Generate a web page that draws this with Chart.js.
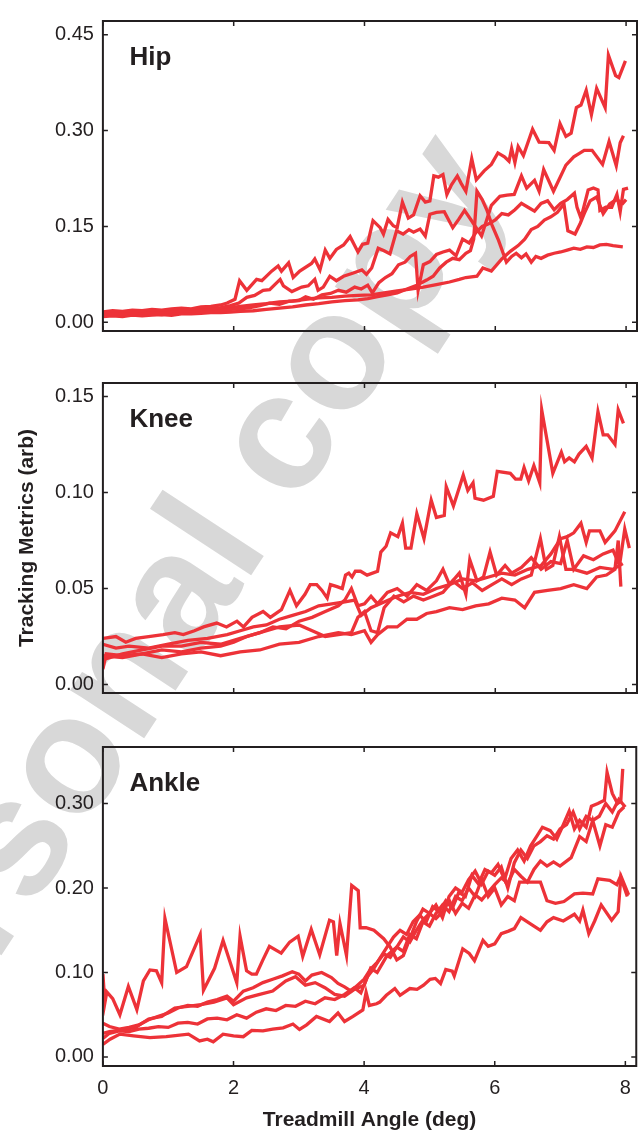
<!DOCTYPE html>
<html><head><meta charset="utf-8">
<script src="https://cdn.jsdelivr.net/npm/chart.js"></script>
<style>
html,body{margin:0;padding:0;background:#fff;overflow:hidden;width:641px;height:1131px;}
canvas{position:absolute;left:0;}
</style></head><body>
<canvas id="wm" width="641" height="1131" style="top:0"></canvas>
<canvas id="c1" width="641" height="352" style="top:0"></canvas>
<canvas id="c2" width="641" height="352" style="top:362px"></canvas>
<canvas id="c3" width="641" height="405" style="top:726px"></canvas>
<script>
// ---------- axis ticks ----------
const xTickVals = [0, 2, 4, 6, 8];
const xTickLabels = ['0', '2', '4', '6', '8'];
const hipTickVals = [0, 0.15, 0.30, 0.45];
const hipTickLabels = ['0.00', '0.15', '0.30', '0.45'];
const kneeTickVals = [0, 0.05, 0.10, 0.15];
const kneeTickLabels = ['0.00', '0.05', '0.10', '0.15'];
const ankleTickVals = [0, 0.10, 0.20, 0.30];
const ankleTickLabels = ['0.00', '0.10', '0.20', '0.30'];

// ---------- Hip series [angle, metric] ----------
const hipA = [[0,0.016],[0.15,0.018],[0.3,0.017],[0.45,0.019],[0.6,0.018],[0.75,0.020],[0.9,0.019],[1.05,0.021],[1.2,0.022],[1.35,0.021],[1.5,0.024],[1.65,0.025],[1.8,0.027],[1.9,0.030],[2.02,0.036],[2.09,0.065],[2.20,0.050],[2.35,0.067],[2.43,0.065],[2.58,0.080],[2.68,0.088],[2.73,0.080],[2.84,0.093],[2.91,0.070],[3.01,0.080],[3.19,0.092],[3.24,0.099],[3.32,0.082],[3.40,0.113],[3.47,0.100],[3.57,0.114],[3.68,0.121],[3.78,0.134],[3.90,0.110],[3.97,0.122],[4.05,0.124],[4.13,0.159],[4.24,0.148],[4.29,0.138],[4.36,0.161],[4.44,0.151],[4.50,0.148],[4.58,0.188],[4.67,0.163],[4.75,0.168],[4.85,0.198],[4.93,0.188],[5.00,0.190],[5.06,0.229],[5.13,0.227],[5.20,0.231],[5.26,0.200],[5.33,0.215],[5.42,0.229],[5.48,0.217],[5.55,0.205],[5.64,0.256],[5.71,0.223],[5.83,0.237],[5.94,0.247],[6.04,0.265],[6.14,0.259],[6.21,0.252],[6.25,0.272],[6.30,0.250],[6.35,0.275],[6.43,0.261],[6.57,0.302],[6.67,0.282],[6.82,0.281],[6.90,0.269],[6.99,0.311],[7.08,0.291],[7.16,0.296],[7.24,0.336],[7.31,0.340],[7.39,0.363],[7.47,0.325],[7.55,0.366],[7.68,0.336],[7.73,0.418],[7.84,0.386],[7.89,0.383],[7.99,0.409]];
const hipB = [[0,0.013],[0.15,0.014],[0.3,0.013],[0.45,0.015],[0.6,0.014],[0.75,0.016],[0.9,0.015],[1.05,0.017],[1.2,0.018],[1.35,0.017],[1.5,0.020],[1.65,0.021],[1.8,0.023],[1.95,0.026],[2.08,0.030],[2.2,0.039],[2.32,0.042],[2.45,0.050],[2.55,0.051],[2.71,0.067],[2.76,0.057],[2.89,0.048],[3.04,0.055],[3.14,0.057],[3.24,0.067],[3.29,0.050],[3.37,0.055],[3.47,0.072],[3.57,0.065],[3.68,0.072],[3.83,0.077],[3.96,0.082],[4.03,0.075],[4.11,0.085],[4.21,0.116],[4.30,0.112],[4.39,0.107],[4.49,0.143],[4.59,0.138],[4.68,0.145],[4.75,0.141],[4.85,0.146],[4.93,0.135],[5.00,0.169],[5.10,0.172],[5.22,0.173],[5.35,0.148],[5.44,0.161],[5.53,0.175],[5.63,0.160],[5.79,0.135],[5.94,0.183],[6.07,0.197],[6.18,0.199],[6.29,0.200],[6.40,0.229],[6.48,0.210],[6.60,0.222],[6.67,0.205],[6.74,0.239],[6.89,0.205],[7.08,0.246],[7.20,0.259],[7.28,0.264],[7.36,0.269],[7.48,0.269],[7.64,0.247],[7.74,0.283],[7.85,0.245],[7.91,0.281],[7.96,0.292]];
const hipC = [[0,0.011],[0.15,0.012],[0.3,0.011],[0.45,0.013],[0.6,0.012],[0.75,0.013],[0.9,0.012],[1.05,0.014],[1.2,0.015],[1.35,0.014],[1.5,0.016],[1.65,0.017],[1.8,0.018],[1.95,0.020],[2.1,0.021],[2.25,0.023],[2.4,0.026],[2.55,0.030],[2.7,0.028],[2.85,0.033],[3.0,0.034],[3.1,0.040],[3.22,0.036],[3.35,0.043],[3.48,0.045],[3.6,0.050],[3.72,0.047],[3.85,0.055],[3.95,0.052],[4.05,0.058],[4.12,0.046],[4.22,0.062],[4.32,0.070],[4.42,0.076],[4.52,0.090],[4.62,0.094],[4.70,0.103],[4.78,0.108],[4.82,0.050],[4.90,0.090],[5.00,0.095],[5.10,0.106],[5.20,0.110],[5.30,0.113],[5.40,0.104],[5.50,0.130],[5.60,0.124],[5.70,0.140],[5.80,0.150],[5.90,0.154],[6.00,0.160],[6.10,0.170],[6.20,0.168],[6.30,0.176],[6.40,0.186],[6.50,0.180],[6.60,0.174],[6.70,0.186],[6.80,0.190],[6.90,0.176],[7.00,0.186],[7.10,0.192],[7.21,0.202],[7.25,0.180],[7.31,0.163],[7.42,0.207],[7.50,0.210],[7.57,0.207],[7.60,0.175],[7.69,0.180],[7.78,0.180],[7.86,0.200],[7.91,0.173],[7.96,0.208],[8.03,0.210]];
const hipD = [[0,0.009],[0.15,0.010],[0.3,0.009],[0.45,0.011],[0.6,0.010],[0.75,0.011],[0.9,0.012],[1.05,0.011],[1.2,0.013],[1.35,0.013],[1.5,0.014],[1.65,0.015],[1.8,0.015],[1.95,0.016],[2.1,0.017],[2.3,0.018],[2.5,0.020],[2.7,0.022],[2.9,0.024],[3.1,0.027],[3.3,0.029],[3.5,0.032],[3.7,0.034],[3.9,0.035],[4.05,0.037],[4.2,0.040],[4.35,0.043],[4.5,0.046],[4.65,0.052],[4.8,0.058],[4.95,0.066],[5.05,0.072],[5.15,0.085],[5.25,0.094],[5.35,0.100],[5.45,0.098],[5.55,0.108],[5.62,0.112],[5.67,0.130],[5.72,0.205],[5.80,0.192],[5.87,0.176],[5.95,0.152],[6.05,0.128],[6.17,0.094],[6.25,0.103],[6.32,0.108],[6.40,0.101],[6.47,0.107],[6.55,0.094],[6.62,0.103],[6.70,0.100],[6.80,0.105],[6.90,0.108],[7.00,0.110],[7.10,0.113],[7.20,0.116],[7.30,0.114],[7.40,0.118],[7.50,0.117],[7.60,0.121],[7.70,0.122],[7.80,0.120],[7.95,0.118]];
const hipE = [[0,0.015],[0.15,0.013],[0.3,0.014],[0.45,0.013],[0.6,0.015],[0.75,0.014],[0.9,0.016],[1.05,0.015],[1.2,0.017],[1.35,0.018],[1.5,0.019],[1.65,0.020],[1.8,0.021],[1.95,0.023],[2.1,0.025],[2.3,0.027],[2.5,0.029],[2.7,0.032],[2.9,0.033],[3.1,0.036],[3.3,0.038],[3.5,0.039],[3.7,0.041],[3.9,0.042],[4.1,0.043],[4.3,0.046],[4.5,0.049],[4.7,0.052],[4.9,0.055],[5.1,0.059],[5.3,0.063],[5.45,0.067],[5.55,0.070],[5.72,0.072],[5.81,0.085],[5.94,0.080],[6.10,0.099],[6.23,0.111],[6.35,0.120],[6.45,0.130],[6.55,0.145],[6.65,0.150],[6.75,0.160],[6.85,0.165],[6.95,0.172],[7.05,0.185],[7.11,0.143],[7.22,0.138],[7.30,0.155],[7.36,0.170],[7.45,0.190],[7.55,0.196],[7.65,0.170],[7.75,0.185],[7.85,0.192],[7.95,0.186],[8.0,0.192]];

// ---------- Knee series ----------
const kneeA = [[0,0.024],[0.2,0.025],[0.35,0.022],[0.5,0.024],[0.7,0.025],[0.92,0.026],[1.1,0.027],[1.23,0.026],[1.4,0.028],[1.54,0.030],[1.74,0.032],[1.89,0.030],[2.05,0.033],[2.15,0.030],[2.28,0.035],[2.45,0.038],[2.56,0.035],[2.73,0.039],[2.86,0.049],[2.96,0.041],[3.09,0.047],[3.17,0.052],[3.27,0.052],[3.35,0.049],[3.43,0.045],[3.48,0.052],[3.58,0.051],[3.66,0.050],[3.71,0.057],[3.76,0.058],[3.81,0.056],[3.86,0.059],[3.94,0.059],[4.04,0.057],[4.20,0.059],[4.25,0.069],[4.33,0.072],[4.40,0.079],[4.51,0.077],[4.58,0.084],[4.63,0.071],[4.71,0.071],[4.80,0.089],[4.91,0.076],[5.02,0.096],[5.10,0.087],[5.22,0.088],[5.25,0.103],[5.36,0.093],[5.51,0.109],[5.58,0.101],[5.66,0.105],[5.69,0.097],[5.82,0.096],[5.97,0.098],[6.03,0.111],[6.23,0.110],[6.31,0.107],[6.39,0.107],[6.44,0.113],[6.51,0.106],[6.59,0.114],[6.68,0.105],[6.71,0.143],[6.88,0.110],[7.01,0.121],[7.06,0.116],[7.13,0.118],[7.21,0.116],[7.28,0.120],[7.39,0.124],[7.48,0.118],[7.57,0.142],[7.65,0.130],[7.72,0.130],[7.83,0.125],[7.88,0.143],[7.96,0.136]];
const kneeB = [[0,0.021],[0.2,0.019],[0.4,0.020],[0.7,0.019],[1.0,0.021],[1.3,0.023],[1.6,0.024],[1.9,0.026],[2.1,0.028],[2.3,0.030],[2.5,0.031],[2.7,0.034],[2.9,0.036],[3.1,0.038],[3.3,0.041],[3.5,0.042],[3.7,0.043],[3.85,0.044],[3.95,0.036],[4.1,0.040],[4.3,0.043],[4.5,0.046],[4.7,0.048],[4.9,0.047],[5.1,0.050],[5.3,0.052],[5.5,0.055],[5.7,0.054],[5.9,0.056],[6.1,0.058],[6.3,0.057],[6.5,0.060],[6.7,0.062],[6.85,0.068],[7.0,0.076],[7.1,0.077],[7.2,0.079],[7.31,0.084],[7.39,0.074],[7.44,0.080],[7.6,0.080],[7.68,0.074],[7.83,0.080],[7.98,0.090]];
const kneeC = [[0,0.015],[0.3,0.014],[0.6,0.016],[0.9,0.018],[1.2,0.017],[1.5,0.019],[1.8,0.020],[2.0,0.022],[2.2,0.025],[2.4,0.027],[2.6,0.030],[2.8,0.029],[3.0,0.033],[3.2,0.035],[3.4,0.038],[3.6,0.041],[3.7,0.044],[3.8,0.050],[3.9,0.041],[4.0,0.042],[4.1,0.046],[4.2,0.042],[4.35,0.048],[4.5,0.050],[4.65,0.046],[4.8,0.052],[4.95,0.049],[5.1,0.054],[5.2,0.060],[5.3,0.052],[5.45,0.058],[5.55,0.047],[5.61,0.065],[5.72,0.054],[5.82,0.056],[5.92,0.069],[6.02,0.057],[6.15,0.062],[6.25,0.058],[6.4,0.061],[6.55,0.066],[6.7,0.060],[6.85,0.064],[7.0,0.063],[7.1,0.075],[7.2,0.060],[7.35,0.067],[7.5,0.065],[7.65,0.068],[7.8,0.070],[7.9,0.062],[7.98,0.081],[8.05,0.071]];
const kneeD = [[0,0.008],[0.05,0.016],[0.3,0.015],[0.6,0.016],[0.9,0.014],[1.2,0.016],[1.5,0.017],[1.8,0.015],[2.1,0.017],[2.4,0.018],[2.7,0.021],[3.0,0.022],[3.3,0.025],[3.6,0.027],[3.8,0.026],[4.0,0.028],[4.1,0.022],[4.2,0.026],[4.35,0.030],[4.5,0.030],[4.65,0.034],[4.8,0.034],[4.95,0.037],[5.1,0.038],[5.3,0.040],[5.5,0.039],[5.7,0.041],[5.9,0.042],[6.1,0.045],[6.3,0.044],[6.45,0.040],[6.6,0.048],[6.8,0.049],[7.0,0.050],[7.2,0.052],[7.4,0.050],[7.55,0.056],[7.7,0.057],[7.83,0.060],[7.88,0.075],[7.92,0.051]];
const kneeE = [[0,0.013],[0.3,0.016],[0.6,0.018],[0.9,0.020],[1.2,0.020],[1.5,0.022],[1.8,0.021],[2.1,0.024],[2.4,0.027],[2.7,0.030],[3.0,0.031],[3.2,0.028],[3.4,0.025],[3.6,0.026],[3.8,0.027],[3.9,0.035],[4.0,0.038],[4.1,0.028],[4.2,0.027],[4.3,0.040],[4.45,0.046],[4.6,0.043],[4.75,0.046],[4.9,0.044],[5.05,0.046],[5.2,0.048],[5.35,0.054],[5.5,0.050],[5.65,0.053],[5.8,0.049],[5.95,0.052],[6.1,0.055],[6.25,0.052],[6.4,0.055],[6.55,0.057],[6.69,0.076],[6.78,0.060],[6.88,0.062],[6.98,0.077],[7.08,0.060],[7.2,0.060],[7.4,0.058],[7.6,0.061],[7.8,0.060],[7.95,0.063]];

// ---------- Ankle series ----------
const ankleA = [[0,0.098],[0.03,0.064],[0.06,0.077],[0.15,0.069],[0.26,0.050],[0.39,0.0835],[0.52,0.056],[0.62,0.090],[0.72,0.103],[0.82,0.102],[0.9,0.088],[0.95,0.164],[1.13,0.100],[1.28,0.107],[1.49,0.145],[1.54,0.079],[1.71,0.105],[1.84,0.138],[2.05,0.088],[2.10,0.143],[2.20,0.102],[2.28,0.098],[2.35,0.098],[2.45,0.115],[2.55,0.131],[2.73,0.123],[2.86,0.136],[2.99,0.143],[3.06,0.119],[3.19,0.151],[3.32,0.121],[3.47,0.162],[3.53,0.160],[3.58,0.120],[3.63,0.158],[3.73,0.120],[3.81,0.203],[3.91,0.197],[3.94,0.153],[4.03,0.153],[4.15,0.150],[4.3,0.140],[4.4,0.130],[4.5,0.115],[4.6,0.120],[4.7,0.140],[4.8,0.160],[4.9,0.175],[5.0,0.170],[5.1,0.180],[5.2,0.165],[5.3,0.190],[5.4,0.200],[5.5,0.195],[5.6,0.210],[5.7,0.220],[5.8,0.205],[5.9,0.220],[6.0,0.215],[6.1,0.225],[6.2,0.200],[6.3,0.230],[6.4,0.245],[6.5,0.235],[6.6,0.250],[6.7,0.255],[6.8,0.262],[6.9,0.258],[7.0,0.270],[7.1,0.275],[7.2,0.290],[7.3,0.270],[7.4,0.285],[7.5,0.280],[7.6,0.285],[7.7,0.300],[7.8,0.290],[7.9,0.305],[8.0,0.296]];
const ankleB = [[0,0.022],[0.1,0.028],[0.25,0.031],[0.4,0.030],[0.55,0.033],[0.7,0.034],[0.85,0.036],[1.0,0.035],[1.15,0.040],[1.3,0.041],[1.45,0.039],[1.6,0.045],[1.75,0.046],[1.9,0.044],[2.05,0.050],[2.2,0.046],[2.35,0.053],[2.5,0.057],[2.65,0.055],[2.8,0.061],[2.95,0.060],[3.1,0.066],[3.25,0.063],[3.4,0.070],[3.55,0.068],[3.7,0.074],[3.85,0.082],[3.95,0.076],[4.05,0.095],[4.15,0.105],[4.25,0.118],[4.35,0.130],[4.45,0.142],[4.55,0.150],[4.65,0.145],[4.75,0.160],[4.85,0.168],[4.95,0.160],[5.05,0.178],[5.15,0.172],[5.25,0.185],[5.35,0.176],[5.45,0.195],[5.55,0.190],[5.65,0.215],[5.75,0.205],[5.85,0.222],[5.95,0.218],[6.05,0.228],[6.15,0.210],[6.25,0.235],[6.35,0.245],[6.45,0.232],[6.55,0.250],[6.65,0.262],[6.73,0.272],[6.85,0.268],[6.95,0.258],[7.05,0.275],[7.14,0.291],[7.22,0.270],[7.30,0.280],[7.40,0.272],[7.48,0.297],[7.58,0.300],[7.68,0.304],[7.72,0.337],[7.80,0.312],[7.88,0.300],[7.93,0.303],[7.96,0.341]];
const ankleC = [[0,0.040],[0.1,0.036],[0.25,0.033],[0.4,0.035],[0.55,0.038],[0.7,0.044],[0.85,0.048],[1.0,0.052],[1.15,0.058],[1.3,0.061],[1.45,0.060],[1.6,0.065],[1.75,0.068],[1.9,0.072],[2.0,0.066],[2.15,0.078],[2.3,0.082],[2.45,0.088],[2.6,0.092],[2.75,0.096],[2.9,0.101],[3.0,0.098],[3.1,0.090],[3.2,0.097],[3.35,0.100],[3.5,0.094],[3.6,0.087],[3.7,0.083],[3.8,0.078],[3.9,0.085],[4.0,0.092],[4.1,0.104],[4.2,0.112],[4.3,0.122],[4.4,0.118],[4.5,0.130],[4.6,0.142],[4.7,0.136],[4.8,0.150],[4.9,0.162],[5.0,0.170],[5.1,0.164],[5.2,0.172],[5.3,0.186],[5.4,0.170],[5.5,0.182],[5.6,0.176],[5.7,0.192],[5.8,0.186],[5.9,0.195],[6.0,0.204],[6.1,0.212],[6.2,0.206],[6.3,0.222],[6.4,0.214],[6.5,0.207],[6.6,0.222],[6.7,0.232],[6.8,0.226],[6.9,0.231],[7.0,0.226],[7.17,0.236],[7.30,0.261],[7.40,0.255],[7.50,0.280],[7.61,0.250],[7.70,0.275],[7.80,0.272],[7.90,0.290],[7.98,0.296]];
const ankleD = [[0,0.028],[0.1,0.030],[0.3,0.032],[0.5,0.035],[0.7,0.045],[0.9,0.048],[1.1,0.058],[1.3,0.060],[1.5,0.062],[1.7,0.065],[1.9,0.070],[2.0,0.062],[2.2,0.070],[2.4,0.074],[2.6,0.078],[2.8,0.090],[2.95,0.095],[3.1,0.085],[3.25,0.088],[3.4,0.082],[3.55,0.074],[3.7,0.072],[3.85,0.080],[4.0,0.085],[4.1,0.105],[4.2,0.100],[4.35,0.120],[4.5,0.130],[4.6,0.125],[4.7,0.145],[4.8,0.140],[4.9,0.160],[5.0,0.155],[5.1,0.170],[5.2,0.180],[5.3,0.172],[5.4,0.190],[5.5,0.185],[5.6,0.200],[5.7,0.190],[5.8,0.210],[5.9,0.190],[6.0,0.200],[6.1,0.180],[6.2,0.190],[6.3,0.185],[6.38,0.207],[6.70,0.207],[6.80,0.185],[6.93,0.182],[7.06,0.184],[7.22,0.193],[7.35,0.194],[7.50,0.193],[7.58,0.211],[7.76,0.209],[7.87,0.204],[7.93,0.2145],[8.05,0.192]];
const ankleE = [[0,0.015],[0.11,0.021],[0.26,0.027],[0.47,0.025],[0.72,0.023],[0.97,0.024],[1.31,0.027],[1.48,0.019],[1.6,0.021],[1.69,0.018],[1.84,0.027],[2.0,0.025],[2.15,0.024],[2.28,0.0315],[2.45,0.031],[2.6,0.033],[2.76,0.0345],[2.91,0.039],[3.01,0.0326],[3.12,0.038],[3.27,0.048],[3.47,0.042],[3.60,0.052],[3.70,0.042],[3.83,0.048],[3.98,0.0556],[4.03,0.0766],[4.08,0.061],[4.19,0.063],[4.24,0.065],[4.34,0.073],[4.47,0.081],[4.55,0.073],[4.70,0.081],[4.81,0.080],[4.91,0.085],[5.01,0.092],[5.09,0.093],[5.17,0.087],[5.25,0.1035],[5.35,0.1015],[5.38,0.096],[5.51,0.128],[5.61,0.1226],[5.69,0.114],[5.82,0.138],[5.90,0.131],[6.00,0.134],[6.10,0.146],[6.21,0.149],[6.3,0.152],[6.4,0.165],[6.5,0.160],[6.6,0.155],[6.7,0.150],[6.8,0.160],[6.9,0.165],[7.05,0.161],[7.22,0.169],[7.30,0.161],[7.35,0.174],[7.44,0.146],[7.53,0.161],[7.63,0.180],[7.79,0.162],[7.89,0.172],[7.93,0.2125],[8.03,0.190]];

// ---------- styling ----------
const INK = '#231f20';
const RED = 'rgb(237,50,56)';
const FONT = '"Liberation Sans", Arial, Helvetica, sans-serif';
const X_MAX = 8.167;

// watermark (background)
(function(){
  const w = document.getElementById('wm').getContext('2d');
  w.save();
  w.translate(-112, 1128);
  w.rotate(-56.7 * Math.PI / 180);
  w.font = 'bold 167px ' + FONT;
  w.fillStyle = '#d8d8d8';
  w.fillText('personal copy', 0, 0);
  w.restore();
})();

const deco = {
  id: 'deco',
  afterDraw(chart, args, o) {
    const {ctx, chartArea: a, scales: {x, y}} = chart;
    const TL = 5;
    ctx.save();
    ctx.strokeStyle = INK;
    ctx.lineWidth = 1.5;
    ctx.beginPath();
    xTickVals.forEach(v => {
      const px = x.getPixelForValue(v);
      ctx.moveTo(px, a.top); ctx.lineTo(px, a.top + TL);
      ctx.moveTo(px, a.bottom); ctx.lineTo(px, a.bottom - TL);
    });
    o.yTicks.forEach(v => {
      const py = y.getPixelForValue(v);
      ctx.moveTo(a.left, py); ctx.lineTo(a.left + TL, py);
      ctx.moveTo(a.right, py); ctx.lineTo(a.right - TL, py);
    });
    ctx.stroke();
    ctx.lineWidth = 2;
    ctx.strokeRect(a.left, a.top, a.right - a.left, a.bottom - a.top);
    ctx.fillStyle = INK;
    ctx.font = 'bold 26px ' + FONT;
    ctx.textAlign = 'left';
    ctx.textBaseline = 'alphabetic';
    ctx.fillText(o.label, a.left + 26.5, a.top + 44);
    ctx.restore();
  }
};

function panel(id, cfg) {
  return new Chart(document.getElementById(id), {
    type: 'line',
    data: {
      datasets: cfg.series.map(s => ({
        data: s.map(p => ({x: p[0], y: p[1]})),
        borderColor: RED, borderWidth: 3.3, pointRadius: 0, fill: false, tension: 0
      }))
    },
    options: {
      responsive: false, animation: false, devicePixelRatio: 1,
      layout: {padding: cfg.padding},
      plugins: {legend: {display: false}, tooltip: {enabled: false},
                deco: {label: cfg.label, yTicks: cfg.yTicks}},
      scales: {
        x: {
          type: 'linear', min: 0, max: X_MAX, display: cfg.showX,
          grid: {display: false, drawTicks: false}, border: {display: false},
          afterBuildTicks: s => { s.ticks = xTickVals.map(v => ({value: v})); },
          afterFit: s => { if (cfg.showX) s.height = 65; },
          ticks: {padding: 10, font: {family: FONT, size: 20}, color: INK,
                  callback: (v, i) => xTickLabels[i], maxRotation: 0, autoSkip: false},
          title: {display: cfg.showX, text: 'Treadmill Angle (deg)', color: INK,
                  font: {family: FONT, size: 21, weight: 'bold', lineHeight: 1},
                  padding: {top: 0, bottom: 0}}
        },
        y: {
          min: cfg.yMin, max: cfg.yMax,
          grid: {display: false, drawTicks: false}, border: {display: false},
          afterBuildTicks: s => { s.ticks = cfg.yTicks.map(v => ({value: v})); },
          afterFit: s => { s.width = 102.9; },
          ticks: {padding: 9, font: {family: FONT, size: 20}, color: INK,
                  callback: (v, i) => cfg.yLabels[i], autoSkip: false},
          title: {display: !!cfg.yTitle, text: cfg.yTitle || '', color: INK,
                  font: {family: FONT, size: 21, weight: 'bold', lineHeight: 1.2},
                  padding: {top: 15, bottom: 0}}
        }
      }
    },
    plugins: [deco]
  });
}

panel('c1', {label: 'Hip', series: [hipA, hipB, hipC, hipD, hipE],
  yMin: -0.0137, yMax: 0.4715, yTicks: hipTickVals, yLabels: hipTickLabels,
  showX: false, padding: {left: 0, right: 4, top: 10.7, bottom: 12}});
panel('c2', {label: 'Knee', series: [kneeA, kneeB, kneeC, kneeD, kneeE],
  yMin: -0.0044, yMax: 0.157, yTicks: kneeTickVals, yLabels: kneeTickLabels,
  yTitle: 'Tracking Metrics (arb)',
  showX: false, padding: {left: 0, right: 4, top: 12, bottom: 11.3}});
panel('c3', {label: 'Ankle', series: [ankleA, ankleB, ankleC, ankleD, ankleE],
  yMin: -0.0107, yMax: 0.367, yTicks: ankleTickVals, yLabels: ankleTickLabels,
  showX: true, padding: {left: 0, right: 4, top: 10.7, bottom: 0}});
</script></body></html>
